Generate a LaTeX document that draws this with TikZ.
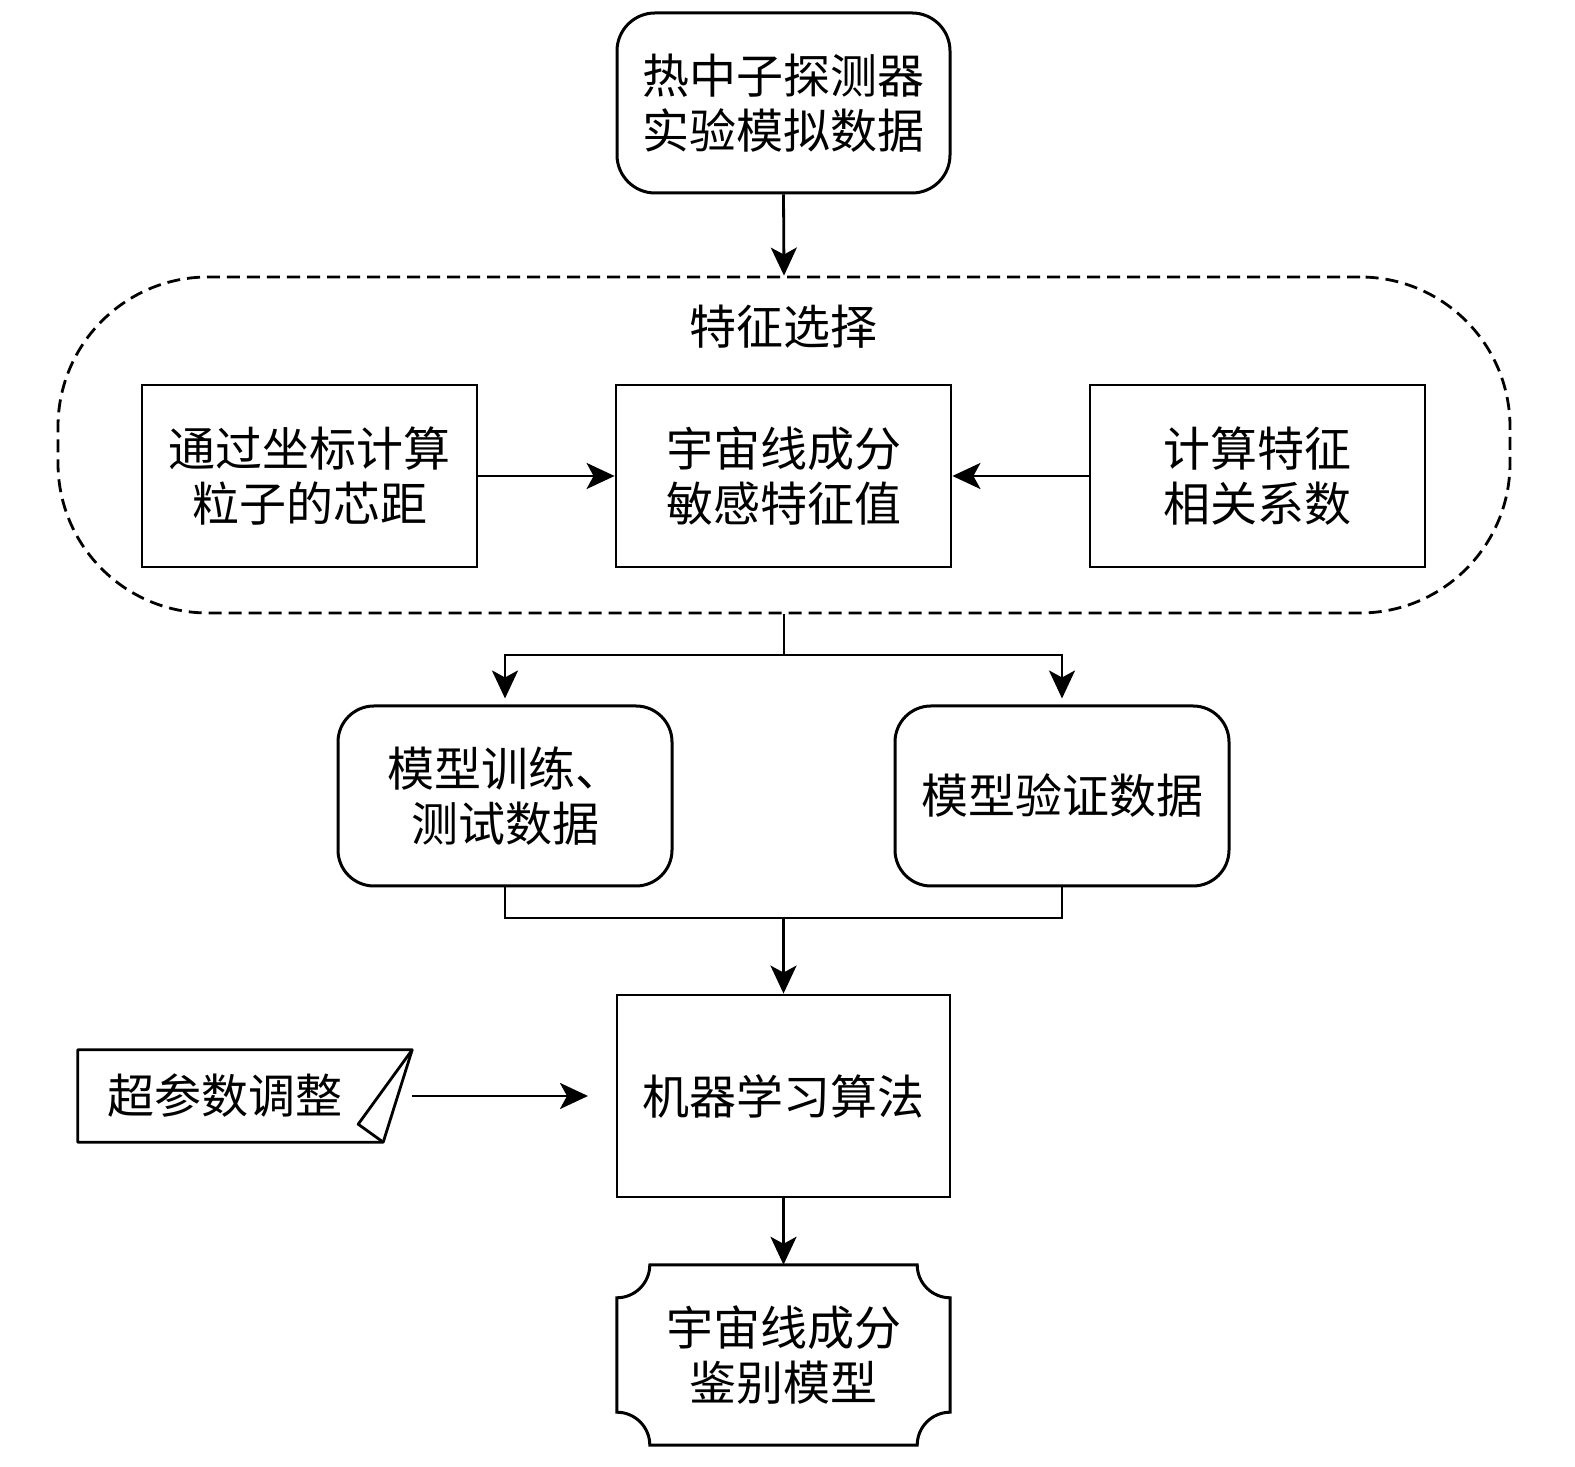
\documentclass[tikz,border=0pt]{standalone}
\usepackage{fontspec}
\newfontfamily\cjk{Noto Sans CJK SC}
\usetikzlibrary{arrows.meta,calc}
\begin{document}
\begin{tikzpicture}[x=1bp,y=1bp,
  every node/.style={font=\cjk\fontsize{47bp}{55bp}\selectfont, align=center, inner sep=0bp},
  boxr/.style={draw, line width=3bp, rounded corners=38bp, minimum width=333bp, minimum height=180bp},
  boxs/.style={draw, line width=2.8bp, minimum width=335bp, minimum height=182bp},
  conn/.style={line width=2.8bp},
  arr/.style={line width=2.8bp, -{Stealth[length=28bp,width=26bp,inset=7bp]}}]
\useasboundingbox (0,0) rectangle (1575,1467);
% top
\node[boxr] (T) at (783.5,1364) {热中子探测器\\实验模拟数据};
% dashed region
\node[draw, dash pattern=on 13bp off 7bp, line width=2.8bp, rounded corners=150bp,
      minimum width=1452bp, minimum height=336bp] (R) at (784,1022) {};
\node (Rt) at (783,1140) {特征选择};
\node[boxs] (A) at (309.5,991) {通过坐标计算\\粒子的芯距};
\node[boxs] (B) at (783.5,991) {宇宙线成分\\敏感特征值};
\node[boxs] (C) at (1257.5,991) {计算特征\\相关系数};
\draw[arr] (T.south) -- (R.north);
\draw[arr] (A.east) -- (B.west);
\draw[arr] (C.west) -- (B.east);
% split
\node[boxr, rounded corners=36bp, minimum width=334bp] (D) at (505,671) {模型训练、\\测试数据};
\node[boxr, rounded corners=36bp, minimum width=334bp] (E) at (1062,671) {模型验证数据};
\coordinate (s) at (784,812);
\draw[conn] (R.south) -- (s);
\draw[arr] (s) -| ([yshift=6bp]D.north);
\draw[arr] (s) -| ([yshift=6bp]E.north);
% merge
\node[boxs, minimum width=333bp, minimum height=202bp] (F) at (783.5,371) {机器学习算法};
\coordinate (m) at (783.5,549);
\draw[conn] (D.south) |- (m);
\draw[conn] (E.south) |- (m);
\draw[arr] (m) -- (F.north);
% hyper parameter
\node[minimum width=334bp, minimum height=92bp] (H) at (245,371) {};
\node (Ht) at (225,371) {超参数调整};
\draw[line width=2.8bp, line join=round] (H.north west) -- (H.north east) -- ([xshift=-29bp]H.south east) -- (H.south west) -- cycle;
\draw[line width=2.8bp, line join=round] (H.north east) -- ([xshift=-54bp,yshift=18bp]H.south east) -- ([xshift=-29bp]H.south east);
\coordinate (hend) at (588,371);
\draw[arr] (H.east) -- (hend);
% bottom
\node[minimum width=333bp, minimum height=180bp] (G) at (783.5,112) {宇宙线成分\\鉴别模型};
\draw[line width=3bp]
  ([xshift=33bp]G.north west) -- ([xshift=-33bp]G.north east)
  arc[start angle=180, end angle=270, radius=33]
  -- ([yshift=33bp]G.south east)
  arc[start angle=90, end angle=180, radius=33]
  -- ([xshift=33bp]G.south west)
  arc[start angle=0, end angle=90, radius=33]
  -- ([yshift=-33bp]G.north west)
  arc[start angle=270, end angle=360, radius=33] -- cycle;
\draw[arr] (F.south) -- (G.north);
\end{tikzpicture}
\end{document}
